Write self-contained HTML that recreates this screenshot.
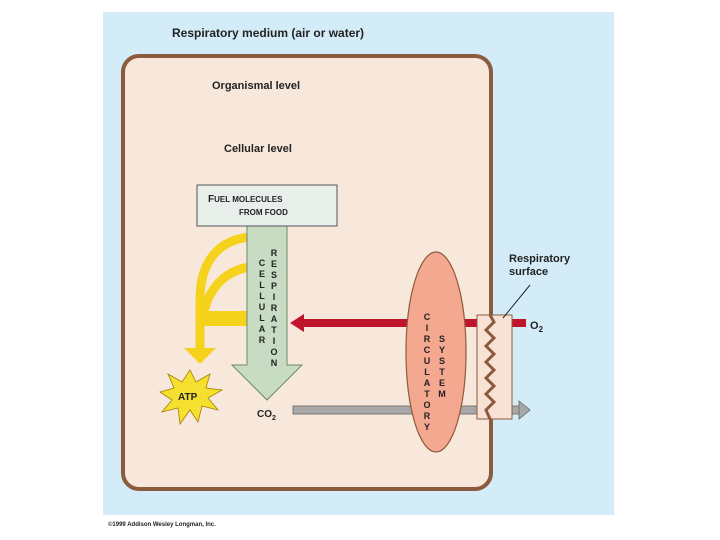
<!DOCTYPE html><html><head><style>body{margin:0;background:#fff}svg{display:block}text{font-family:"Liberation Sans",Arial,sans-serif;font-weight:bold;fill:#222}</style></head><body>
<svg width="720" height="540" viewBox="0 0 720 540">
<rect x="103" y="12" width="511" height="503" fill="#d4ecf8"/>
<text x="172" y="37" font-size="12">Respiratory medium (air or water)</text>
<rect x="123" y="56" width="368" height="433" rx="16" fill="#f8e8dc" stroke="#8c5a3c" stroke-width="4"/>
<text x="212" y="89" font-size="11">Organismal level</text>
<text x="224" y="152" font-size="11">Cellular level</text>
<!-- yellow arrows -->
<g fill="none" stroke="#f5d21c" stroke-width="9">
<path d="M250,237 C218,240 200,262 200,300 L200,352"/>
<path d="M250,267 C228,270 210,285 204,312"/>
</g>
<rect x="200" y="311" width="50" height="15" fill="#f5d21c"/>
<polygon points="184,348 216,348 200,364" fill="#f5d21c"/>
<!-- green arrow -->
<path d="M247,226 L287,226 L287,365 L302,365 L267,400 L232,365 L247,365 Z" fill="#c8dcc4" stroke="#6a8a6a" stroke-width="1"/>
<rect x="197" y="185" width="140" height="41" fill="#e8efea" stroke="#555" stroke-width="1"/>
<text x="208" y="202" font-size="10">F<tspan font-size="8">UEL MOLECULES</tspan></text>
<text x="239" y="215" font-size="8">FROM FOOD</text>
<g font-size="9" text-anchor="middle">
<text x="262" y="266">C</text><text x="262" y="277">E</text><text x="262" y="288">L</text><text x="262" y="299">L</text><text x="262" y="310">U</text><text x="262" y="321">L</text><text x="262" y="332">A</text><text x="262" y="343">R</text>
<text x="274" y="256">R</text><text x="274" y="267">E</text><text x="274" y="278">S</text><text x="274" y="289">P</text><text x="274" y="300">I</text><text x="274" y="311">R</text><text x="274" y="322">A</text><text x="274" y="333">T</text><text x="274" y="344">I</text><text x="274" y="355">O</text><text x="274" y="366">N</text>
</g>
<!-- ATP -->
<polygon points="190,370 196,382 210,374 206,388 222,390 208,398 218,410 202,406 198,422 190,410 180,424 178,408 162,412 172,400 160,392 174,388 168,374 182,382" fill="#f5e030" stroke="#a08000" stroke-width="0.8"/>
<text x="178" y="400" font-size="10">ATP</text>
<!-- red arrow -->
<rect x="300" y="319" width="226" height="8" fill="#c0142a"/>
<polygon points="290,323 304,314 304,332" fill="#c0142a"/>
<text x="530" y="329" font-size="11">O<tspan font-size="8" dy="3">2</tspan></text>
<!-- gray arrow -->
<rect x="293" y="406" width="227" height="8" fill="#a8a8a8" stroke="#666" stroke-width="0.8"/>
<polygon points="519,401 530,410 519,419" fill="#a8a8a8" stroke="#666" stroke-width="0.8"/>
<text x="257" y="417" font-size="10">CO<tspan font-size="7" dy="3">2</tspan></text>
<!-- circulatory -->
<ellipse cx="436" cy="352" rx="30" ry="100" fill="#f4a890" stroke="#8c5a3c" stroke-width="1.2"/>
<g font-size="9" text-anchor="middle">
<text x="427" y="320">C</text><text x="427" y="331">I</text><text x="427" y="342">R</text><text x="427" y="353">C</text><text x="427" y="364">U</text><text x="427" y="375">L</text><text x="427" y="386">A</text><text x="427" y="397">T</text><text x="427" y="408">O</text><text x="427" y="419">R</text><text x="427" y="430">Y</text>
<text x="442" y="342">S</text><text x="442" y="353">Y</text><text x="442" y="364">S</text><text x="442" y="375">T</text><text x="442" y="386">E</text><text x="442" y="397">M</text>
</g>
<!-- respiratory surface -->
<rect x="477" y="315" width="35" height="104" fill="#f8e2d6" stroke="#8c5a3c" stroke-width="1"/>
<polyline points="490,315 494,322 486,330 494,338 486,346 494,354 486,362 494,370 486,378 494,386 486,394 494,402 486,410 490,419" fill="none" stroke="#8c5a3c" stroke-width="3"/>
<line x1="530" y1="285" x2="503" y2="318" stroke="#222" stroke-width="1"/>
<text x="509" y="262" font-size="11">Respiratory</text>
<text x="509" y="275" font-size="11">surface</text>
<text x="108" y="526" font-size="6" font-weight="normal">©1999 Addison Wesley Longman, Inc.</text>
</svg></body></html>
